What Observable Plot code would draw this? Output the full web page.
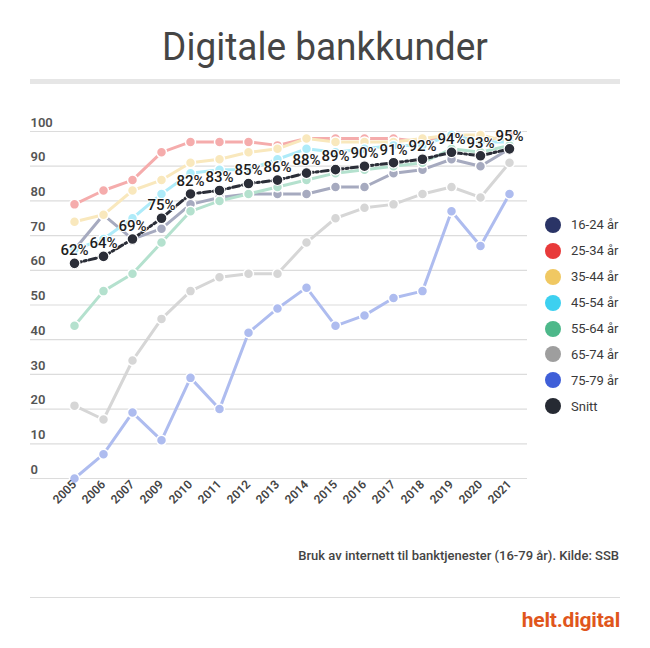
<!DOCTYPE html>
<html><head><meta charset="utf-8">
<script src="https://cdn.jsdelivr.net/npm/d3@7"></script>
<script src="https://cdn.jsdelivr.net/npm/@observablehq/plot@0.6"></script>
<style>
body{margin:0;background:#fff;font-family:Roboto,"Noto Sans",sans-serif;}
#page{position:relative;width:650px;height:648px;overflow:hidden;background:#fff;}
#title{position:absolute;left:0;width:650px;top:25px;text-align:center;font-size:37px;line-height:44px;color:#454545;transform:scaleY(1.06);}
#rule1{position:absolute;left:30px;width:590px;top:79px;height:5px;background:#e6e6e6;}
#chart{position:absolute;left:0;top:100px;}
#legend{position:absolute;left:545px;top:212px;}
.li{height:25.9px;display:flex;align-items:center;font-size:13px;color:#3a3a3a;}
.sw{width:16px;height:16px;border-radius:50%;margin-right:10px;}
#caption{position:absolute;right:31px;top:548px;font-size:13px;font-weight:500;color:#444;}
#rule2{position:absolute;left:30px;width:590px;top:597px;height:1px;background:#dcdcdc;}
#logo{position:absolute;right:30px;top:608px;font-size:21px;font-weight:700;color:#e0561c;letter-spacing:-0.2px;}
</style></head>
<body><div id="page">
<div id="title">Digitale bankkunder</div>
<div id="rule1"></div>
<div id="chart"></div>
<div id="legend"></div>
<div id="caption">Bruk av internett til banktjenester (16-79 år). Kilde: SSB</div>
<div id="rule2"></div>
<div id="logo">helt.digital</div>
</div>
<script>
const years = ["2005","2006","2007","2009","2010","2011","2012","2013","2014","2015","2016","2017","2018","2019","2020","2021"];
const seriesNames = ["16-24 år","25-34 år","35-44 år","45-54 år","55-64 år","65-74 år","75-79 år","Snitt"];
const seriesColors = ["#2a3466","#e83a3a","#f0c862","#3dd0f0","#4db88a","#9e9e9e","#3f5fd8","#262a33"];
const v1624 = [66,76,69,72,79,81,82,82,82,84,84,88,89,92,90,95];
const v2534 = [79,83,86,94,97,97,97,96,98,98,98,98,97,99,97,99];
const v3544 = [74,76,83,86,91,92,94,95,98,97,97,97,98,99,99,97];
const v4554 = [66,69,75,82,88,89,89,92,95,94,95,96,96,99,97,97];
const v5564 = [44,54,59,68,77,80,82,84,86,88,89,90,91,95,94,96];
const v6574 = [21,17,34,46,54,58,59,59,68,75,78,79,82,84,81,91];
const v7579 = [0,7,19,11,29,20,42,49,55,44,47,52,54,77,67,82];
const snitt = [62,64,69,75,82,83,85,86,88,89,90,91,92,94,93,95];
const yTicks = [0,10,20,30,40,50,60,70,80,90,100];

const seriesValues = [v1624,v2534,v3544,v4554,v5564,v6574,v7579];
const fade = c => d3.interpolateRgb("#ffffff", c)(0.42);

const marks = [
  Plot.ruleY(yTicks, {stroke:"#dcdcdc", strokeWidth:1.2}),
  Plot.text(yTicks, {y:d=>d, frameAnchor:"left", textAnchor:"start", dy:-9, text:d=>String(d), fill:"#555", fontWeight:600, fontSize:13})
];
seriesValues.forEach((vals,i)=>{
  const rows = years.map((y,j)=>({year:y, value:vals[j]}));
  const col = fade(seriesColors[i]);
  marks.push(Plot.line(rows,{x:"year",y:"value",stroke:col,strokeWidth:3}));
  marks.push(Plot.dot(rows,{x:"year",y:"value",fill:col,stroke:"#fff",strokeWidth:1.5,r:5}));
});
const snRows = years.map((y,j)=>({year:y, value:snitt[j]}));
marks.push(Plot.line(snRows,{x:"year",y:"value",stroke:"#2b2e38",strokeWidth:3,strokeDasharray:"7,3,2,3"}));
marks.push(Plot.dot(snRows,{x:"year",y:"value",fill:"#2b2e38",stroke:"#fff",strokeWidth:1.2,r:5.4}));
marks.push(Plot.text(snRows,{x:"year",y:"value",text:d=>d.value+"%",dy:-13,fill:"#1e1e1e",fontWeight:500,fontSize:15,stroke:"#fff",strokeWidth:2}));
marks.push(Plot.axisX({tickRotate:-45, tickSize:0, tickPadding:4, fill:"#444", fontWeight:600, fontSize:12, label:null}));

const chart = Plot.plot({
  width:650, height:440,
  marginLeft:30, marginRight:123, marginTop:31, marginBottom:62,
  style:{fontFamily:"Roboto, sans-serif", fontSize:"12px", background:"transparent"},
  x:{type:"point", domain:years, padding:1.01, align:0.71},
  y:{domain:[0,100], axis:null},
  marks
});
document.getElementById("chart").appendChild(chart);

const leg = document.getElementById("legend");
seriesNames.forEach((n,i)=>{
  const d = document.createElement("div"); d.className="li";
  d.innerHTML = `<span class="sw" style="background:${seriesColors[i]}"></span><span>${n}</span>`;
  leg.appendChild(d);
});
</script>
</body></html>
